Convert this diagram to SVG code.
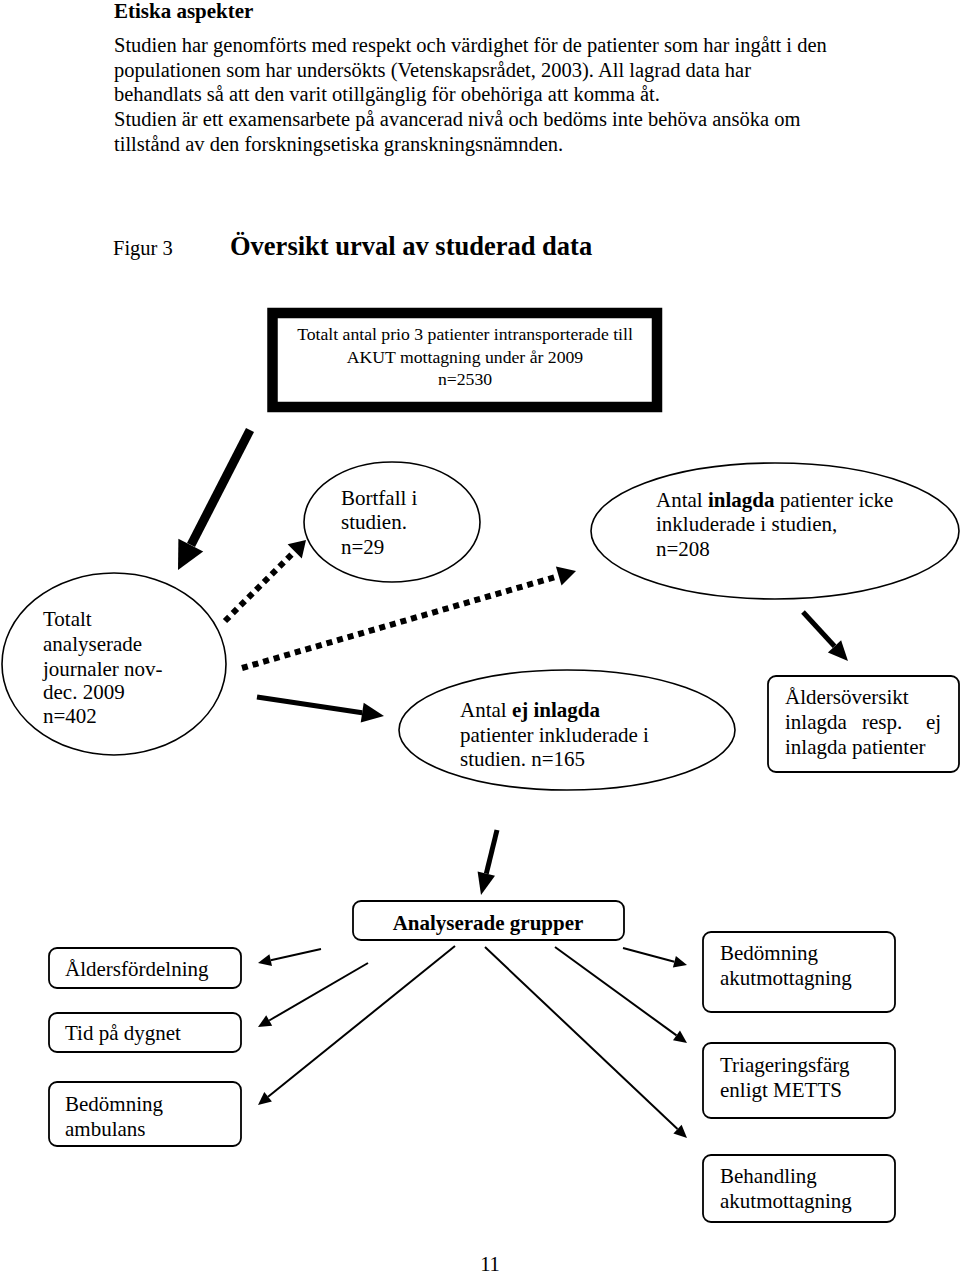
<svg xmlns="http://www.w3.org/2000/svg" width="960" height="1273" viewBox="0 0 960 1273">
<style>
text{font-family:"Liberation Serif","Times New Roman",serif;fill:#000}
.b{font-size:20.5px}
.n{font-size:21px}
.bold{font-weight:bold}
.el{fill:#fff;stroke:#000;stroke-width:1.6}
.bx{fill:#fff;stroke:#000;stroke-width:1.8}
.th{stroke:#000;stroke-width:5;fill:none}
.dot{stroke:#000;stroke-width:6;stroke-dasharray:6 5;fill:none}
.tn{stroke:#000;stroke-width:2;fill:none}
.hd{fill:#000}
</style>
<rect width="960" height="1273" fill="#fff"/>
<g id="header">
<text class="bold" x="114" y="18" font-size="21">Etiska aspekter</text>
<text class="b" x="114" y="52">Studien har genomförts med respekt och värdighet för de patienter som har ingått i den</text>
<text class="b" x="114" y="77">populationen som har undersökts (Vetenskapsrådet, 2003). All lagrad data har</text>
<text class="b" x="114" y="101">behandlats så att den varit otillgänglig för obehöriga att komma åt.</text>
<text class="b" x="114" y="126">Studien är ett examensarbete på avancerad nivå och bedöms inte behöva ansöka om</text>
<text class="b" x="114" y="151">tillstånd av den forskningsetiska granskningsnämnden.</text>
<text class="b" x="113" y="255">Figur 3</text>
<text class="bold" x="230" y="255" font-size="26.5">Översikt urval av studerad data</text>
</g>
<g id="connectors">
<line x1="250" y1="430" x2="191" y2="545" stroke="#000" stroke-width="9"/>
<polygon class="hd" points="178,570 178.4,538.7 203.2,551.5"/>
<line class="dot" x1="225" y1="621" x2="294.7" y2="551.3"/>
<polygon class="hd" points="306,540 301.8,558.4 287.6,544.2"/>
<line class="dot" x1="242" y1="668" x2="558.7" y2="576"/>
<polygon class="hd" points="576,571 561.5,585.6 555.9,566.4"/>
<line class="th" x1="257" y1="697" x2="362.2" y2="712.7"/>
<polygon class="hd" points="384,716 360.7,722.6 363.7,702.8"/>
<line class="th" x1="803" y1="612" x2="834.5" y2="646.3"/>
<polygon class="hd" points="848,661 827.9,652.4 841.1,640.2"/>
<line class="th" x1="497" y1="830" x2="486.3" y2="873.6"/>
<polygon class="hd" points="481,895 477.6,871.5 495,875.7"/>
<line class="tn" x1="321" y1="949" x2="270.7" y2="960.2"/>
<polygon class="hd" points="258,963 269.4,954.3 272,966.1"/>
<line class="tn" x1="368" y1="963" x2="269.2" y2="1020.5"/>
<polygon class="hd" points="258,1027 266.2,1015.3 272.2,1025.7"/>
<line class="tn" x1="455" y1="946" x2="268.1" y2="1096.8"/>
<polygon class="hd" points="258,1105 264.3,1092.1 271.9,1101.5"/>
<line class="tn" x1="623" y1="948" x2="674.4" y2="961.7"/>
<polygon class="hd" points="687,965 672.9,967.5 675.9,955.9"/>
<line class="tn" x1="555" y1="947" x2="676.5" y2="1035.4"/>
<polygon class="hd" points="687,1043 673,1040.3 680,1030.5"/>
<line class="tn" x1="485" y1="947" x2="677.5" y2="1129.1"/>
<polygon class="hd" points="687,1138 673.4,1133.5 681.6,1124.7"/>
</g>
<g id="total">
<rect x="272.5" y="313" width="384.5" height="94" fill="#fff" stroke="#000" stroke-width="10.5"/>
<text x="465" y="340" font-size="17.7" text-anchor="middle">Totalt antal prio 3 patienter intransporterade till</text>
<text x="465" y="363" font-size="17.7" text-anchor="middle">AKUT mottagning under år 2009</text>
<text x="465" y="385" font-size="17.7" text-anchor="middle">n=2530</text>
</g>
<g id="bortfall">
<ellipse class="el" cx="392" cy="522" rx="88" ry="60"/>
<text class="n" x="341" y="505">Bortfall i</text>
<text class="n" x="341" y="529">studien.</text>
<text class="n" x="341" y="554">n=29</text>
</g>
<g id="inlagda">
<ellipse class="el" cx="775" cy="531" rx="184" ry="68"/>
<text class="n" x="656" y="507">Antal <tspan class="bold">inlagda</tspan> patienter icke</text>
<text class="n" x="656" y="531">inkluderade i studien,</text>
<text class="n" x="656" y="556">n=208</text>
</g>
<g id="analyserade">
<ellipse class="el" cx="114" cy="664" rx="112" ry="91"/>
<text class="n" x="43" y="626">Totalt</text>
<text class="n" x="43" y="651">analyserade</text>
<text class="n" x="43" y="676">journaler nov-</text>
<text class="n" x="43" y="699">dec. 2009</text>
<text class="n" x="43" y="723">n=402</text>
</g>
<g id="ejinlagda">
<ellipse class="el" cx="567" cy="730" rx="168" ry="60"/>
<text class="n" x="460" y="717">Antal <tspan class="bold">ej inlagda</tspan></text>
<text class="n" x="460" y="742">patienter inkluderade i</text>
<text class="n" x="460" y="766">studien. n=165</text>
</g>
<g id="aldersoversikt">
<rect class="bx" x="768" y="676" width="191" height="96" rx="8"/>
<text class="n" x="785" y="704">Åldersöversikt</text>
<text class="n" x="785" y="729">inlagda</text>
<text class="n" x="862" y="729">resp.</text>
<text class="n" x="926" y="729">ej</text>
<text class="n" x="785" y="754">inlagda patienter</text>
</g>
<g id="grupper">
<rect class="bx" x="353" y="901" width="271" height="39" rx="8"/>
<text class="bold" x="488" y="930" font-size="21" text-anchor="middle">Analyserade grupper</text>
</g>
<g id="aldersfordelning">
<rect class="bx" x="49" y="948" width="192" height="40" rx="8"/>
<text class="n" x="65" y="976">Åldersfördelning</text>
</g>
<g id="tid">
<rect class="bx" x="49" y="1013" width="192" height="39" rx="8"/>
<text class="n" x="65" y="1040">Tid på dygnet</text>
</g>
<g id="ambulans">
<rect class="bx" x="49" y="1082" width="192" height="64" rx="8"/>
<text class="n" x="65" y="1111">Bedömning</text>
<text class="n" x="65" y="1136">ambulans</text>
</g>
<g id="bedomning">
<rect class="bx" x="703" y="932" width="192" height="80" rx="8"/>
<text class="n" x="720" y="960">Bedömning</text>
<text class="n" x="720" y="985">akutmottagning</text>
</g>
<g id="triage">
<rect class="bx" x="703" y="1043" width="192" height="75" rx="8"/>
<text class="n" x="720" y="1072">Triageringsfärg</text>
<text class="n" x="720" y="1097">enligt METTS</text>
</g>
<g id="behandling">
<rect class="bx" x="703" y="1155" width="192" height="67" rx="8"/>
<text class="n" x="720" y="1183">Behandling</text>
<text class="n" x="720" y="1208">akutmottagning</text>
</g>
<g id="page">
<text class="b" x="490" y="1271" text-anchor="middle">11</text>
</g>
</svg>
